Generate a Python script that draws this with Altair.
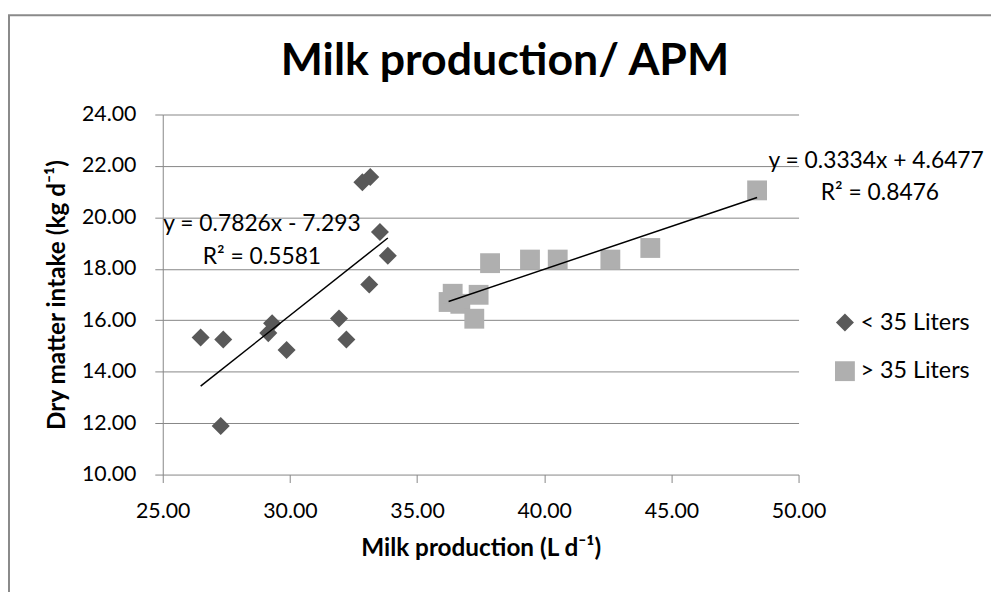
import altair as alt
import pandas as pd

# ---- data ----
lt35_x = [26.49, 27.38, 27.28, 29.15, 29.30, 29.87, 31.93, 32.22, 32.85, 33.16, 33.12, 33.54, 33.85]
lt35_y = [15.33, 15.25, 11.89, 15.50, 15.88, 14.84, 16.07, 15.25, 21.37, 21.57, 17.39, 19.43, 18.51]
gt35_x = [36.24, 36.40, 36.70, 37.42, 37.25, 37.87, 39.44, 40.53, 42.60, 44.17, 48.37]
gt35_y = [16.71, 17.03, 16.64, 16.99, 16.06, 18.22, 18.36, 18.36, 18.36, 18.81, 21.05]
series_names = ["< 35 Liters", "> 35 Liters"]
slopes = [0.7826, 0.3334]
intercepts = [-7.293, 4.6477]
eq_labels = ["y = 0.7826x - 7.293", "y = 0.3334x + 4.6477"]
r2_labels = ["R\u00b2 = 0.5581", "R\u00b2 = 0.8476"]
# label anchor points (data coords)
eq_pos_x = [28.90, 53.05]
eq_pos_y = [19.75, 22.19]
r2_pos_x = [28.90, 53.20]
r2_pos_y = [18.44, 20.95]
chart_title = "Milk production/ APM"

FONT = "Lato"
W, H = 641, 363
PL, PT = 156, 105
TOTW, TOTH = 991, 584

pts = pd.DataFrame({
    "x": lt35_x + gt35_x,
    "y": lt35_y + gt35_y,
    "series": [series_names[0]] * len(lt35_x) + [series_names[1]] * len(gt35_x),
})

rows = []
for i, (xs, name) in enumerate([(lt35_x, series_names[0]), (gt35_x, series_names[1])]):
    for xv in (min(xs), max(xs)):
        rows.append({"x": xv, "y": slopes[i] * xv + intercepts[i], "series": name})
trend = pd.DataFrame(rows)

ann = pd.DataFrame({
    "x": eq_pos_x + r2_pos_x,
    "y": eq_pos_y + r2_pos_y,
    "label": eq_labels + r2_labels,
})

xscale = alt.Scale(domain=[25, 50], nice=False, zero=False)
yscale = alt.Scale(domain=[10, 24], nice=False, zero=False)

xaxis = alt.Axis(
    title="Milk production (L d\u207b\u00b9)", values=[25, 30, 35, 40, 45, 50], format=".2f",
    grid=False, domain=False, tickSize=8, tickColor="#868686", labelPadding=18,
    titlePadding=15, labelFlush=False,
)
yaxis = alt.Axis(
    title="Dry matter intake (kg d\u207b\u00b9)", values=[10, 12, 14, 16, 18, 20, 22, 24], format=".2f",
    grid=True, gridColor="#868686", domain=True, domainColor="#868686", tickSize=8,
    tickColor="#868686", labelPadding=19, titlePadding=12, labelFlush=False,
)

base_x = alt.X("x:Q", scale=xscale, axis=xaxis)
base_y = alt.Y("y:Q", scale=yscale, axis=yaxis)

one = pd.DataFrame({"a": [0]})

border = alt.Chart(one).mark_rect(
    fill=None, stroke="#8a8a8a", strokeWidth=2
).encode(
    x=alt.value(-PL + 1), x2=alt.value(TOTW), y=alt.value(-PT + 5), y2=alt.value(TOTH)
)

title_mark = alt.Chart(one).mark_text(
    font=FONT, fontSize=45, fontWeight="bold", color="#000000", align="center", baseline="alphabetic"
).encode(x=alt.value(345), y=alt.value(-40), text=alt.value(chart_title))

points = alt.Chart(pts).mark_point(filled=True, opacity=1, strokeWidth=0).encode(
    x=base_x,
    y=base_y,
    color=alt.Color("series:N", scale=alt.Scale(domain=series_names, range=["#595959", "#afafaf"]),
                    legend=alt.Legend(title=None, orient="none", legendX=676, legendY=198,
                                      labelFont=FONT, labelFontSize=23.5, labelColor="#000000",
                                      symbolSize=289, symbolStrokeWidth=0, rowPadding=24,
                                      labelOffset=4, padding=0, symbolOpacity=1)),
    shape=alt.Shape("series:N", scale=alt.Scale(domain=series_names, range=["diamond", "square"])),
    size=alt.Size("series:N", scale=alt.Scale(domain=series_names, range=[330, 400]), legend=None),
)

lines = alt.Chart(trend).mark_line(color="#000000", strokeWidth=1.5).encode(
    x=alt.X("x:Q", scale=xscale), y=alt.Y("y:Q", scale=yscale), detail="series:N"
)

texts = alt.Chart(ann).mark_text(font=FONT, fontSize=23, color="#000000", align="center", baseline="middle").encode(
    x=alt.X("x:Q", scale=xscale), y=alt.Y("y:Q", scale=yscale), text="label:N"
)

chart = alt.layer(border, title_mark, points, lines, texts).properties(
    width=W, height=H,
    background="#ffffff",
    autosize=alt.AutoSizeParams(type="none"),
    padding={"left": PL, "top": PT, "right": TOTW - PL - W, "bottom": TOTH - PT - H},
).configure_view(stroke=None).configure_axis(
    labelFont=FONT, labelFontSize=21.5, labelColor="#000000",
    titleFont=FONT, titleFontSize=24.5, titleFontWeight="bold", titleColor="#000000",
)

chart.save("out.html", embed_options={"renderer": "svg", "actions": False})
